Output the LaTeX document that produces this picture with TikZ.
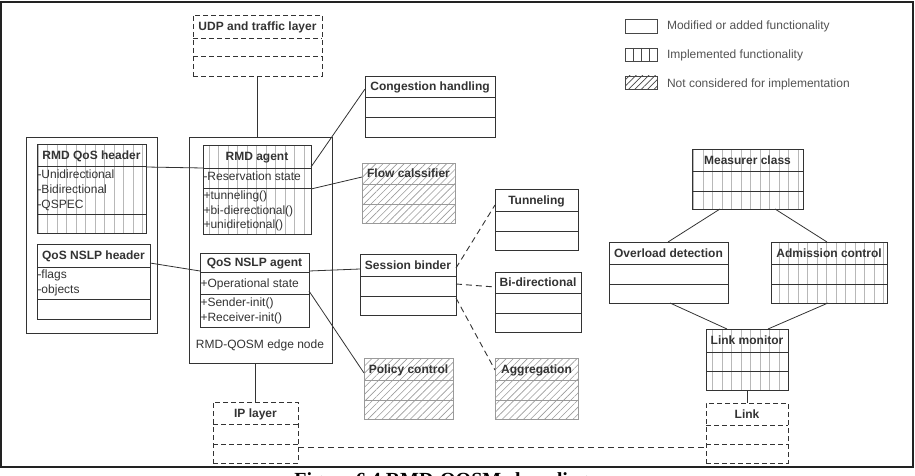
\documentclass[tikz,border=0pt]{standalone}
\usepackage{fontspec}
\setmainfont{Liberation Sans}
\newfontfamily\capfont{Liberation Serif}
\usetikzlibrary{patterns.meta,fit}
\definecolor{ink}{HTML}{333333}
\definecolor{frame}{HTML}{222222}
\definecolor{stripe}{HTML}{B8B8B8}
\definecolor{hatchc}{HTML}{9A9A9A}
\tikzset{
  every node/.style={font=\fontsize{12}{14}\selectfont, text=ink, inner sep=0pt, outer sep=0pt},
  plainbox/.style={draw=ink, line width=0.9pt, fill=white},
  stripebox/.style={draw=ink, line width=0.9pt, pattern={Lines[angle=90,distance=9.5pt,line width=0.5pt]}, pattern color=stripe},
  hatchbox/.style={draw=hatchc, line width=0.9pt, pattern={Lines[angle=45,distance=5pt,line width=0.6pt]}, pattern color=hatchc},
  dashbox/.style={draw=ink, line width=0.9pt, dash pattern=on 5pt off 3pt},
  plainsep/.style={draw=ink, line width=0.9pt},
  stripesep/.style={draw=ink, line width=0.9pt},
  hatchsep/.style={draw=hatchc, line width=0.9pt},
  dashsep/.style={draw=ink, line width=0.9pt, dash pattern=on 5pt off 3pt},
  title/.style={font=\fontsize{12}{14}\selectfont\bfseries, text height=8.6pt, text depth=0pt},
  attr/.style={anchor=west, text height=8.6pt, text depth=0pt},
  link/.style={draw=ink, line width=0.8pt},
  dlink/.style={draw=ink, line width=0.9pt, dash pattern=on 6pt off 4pt},
  container/.style={draw=ink, line width=0.9pt},
  legtext/.style={anchor=west, text=ink!85, text height=8.6pt, text depth=0pt},
}
\newcommand\umlc[9]{%
  \node[#2box, fit={(#3,#4)(#5,#8)}] (#1) {};
  \draw[#2sep] (#1.west |- 0,#6) -- (#1.east |- 0,#6) (#1.west |- 0,#7) -- (#1.east |- 0,#7);
  \node[title] (#1-t) at ({(#3+#5)/2},{(#4+#6)/2}) {#9};
}
\begin{document}
\begin{tikzpicture}[x=1pt,y=-1pt]
\useasboundingbox (0,0) rectangle (915,476);
\clip (0,0) rectangle (915,476);
% outer frame
\node[draw=frame, line width=1.3pt, fit={(1,2)(913,467)}] (frm) {};
% caption (cut by the page edge, as in the reference)
\node[font=\capfont\bfseries\fontsize{20}{24}\selectfont, text=black, anchor=base] (cap) at (459,486) {Figure 6.4 RMD-QOSM class diagram};

% containers
\node[container, fit={(26,137)(157,333)}] (hdrs) {};
\node[container, fit={(189,137)(332,363)}] (edge) {};
\node (edge-l) at (260,345) {RMD-QOSM edge node};

% classes
\umlc{udp}{dash}{193}{15}{322}{38}{56}{76}{UDP and traffic layer}
\umlc{qh}{stripe}{37}{144}{146}{166}{214}{233}{RMD QoS header}
\umlc{nh}{plain}{37}{244}{150}{267}{299}{319}{QoS NSLP header}
\umlc{ra}{stripe}{203}{145}{311}{168}{188}{234}{RMD agent}
\umlc{na}{plain}{200}{253}{309}{272}{294}{327}{QoS NSLP agent}
\umlc{ch}{plain}{365}{76}{495}{97}{117}{137}{Congestion handling}
\umlc{fc}{hatch}{362}{163}{455}{184}{204}{223}{Flow calssifier}
\umlc{tu}{plain}{495}{189}{578}{211}{231}{250}{Tunneling}
\umlc{sb}{plain}{360}{254}{456}{276}{296}{315}{Session binder}
\umlc{bd}{plain}{495}{272}{581}{293}{313}{332}{Bi-directional}
\umlc{pc}{hatch}{364}{358}{453}{380}{400}{419}{Policy control}
\umlc{ag}{hatch}{495}{358}{578}{380}{400}{419}{Aggregation}
\umlc{ip}{dash}{213}{402}{298}{424}{444}{463}{IP layer}
\umlc{mc}{stripe}{692}{149}{803}{171}{191}{209}{Measurer class}
\umlc{od}{plain}{609}{242}{728}{264}{284}{303}{Overload detection}
\umlc{ac}{stripe}{771}{242}{887}{264}{284}{303}{Admission control}
\umlc{lm}{stripe}{706}{329}{788}{352}{371}{390}{Link monitor}
\umlc{lk}{dash}{706}{403}{788}{425}{444}{463}{Link}

% attributes and methods
\node[attr] (qh-a1) at (37.5,174) {-Unidirectional};
\node[attr] (qh-a2) at (37.5,189) {-Bidirectional};
\node[attr] (qh-a3) at (37.5,204) {-QSPEC};
\node[attr] (nh-a1) at (37.5,274) {-flags};
\node[attr] (nh-a2) at (37.5,289) {-objects};
\node[attr] (ra-a1) at (203.5,176) {-Reservation state};
\node[attr] (ra-m1) at (203.5,195) {+tunneling()};
\node[attr] (ra-m2) at (203.5,210) {+bi-dierectional()};
\node[attr] (ra-m3) at (203.5,224) {+unidiretional()};
\node[attr] (na-a1) at (200.5,283) {+Operational state};
\node[attr] (na-m1) at (200.5,302) {+Sender-init()};
\node[attr] (na-m2) at (200.5,317) {+Receiver-init()};

% connectors
\draw[link] (udp.south) -- (udp.south |- edge.north);
\draw[link] (ip.north |- edge.south) -- (ip.north);
\draw[link] (qh.east |- 0,167) -- (ra.west |- 0,168);
\draw[link] (ra.east |- 0,167) -- (ch.west |- 0,89);
\draw[link] (ra.east |- 0,189) -- (fc.west |- 0,177);
\draw[link] (nh.east |- 0,263) -- (na.west |- 0,271);
\draw[link] (na.east |- 0,271) -- (sb.west |- 0,269);
\draw[link] (na.east |- 0,291) -- (pc.west |- 0,373);
\draw[dlink] (sb.east |- 0,268) -- (tu.west |- 0,205);
\draw[dlink] (sb.east |- 0,284) -- (bd.west |- 0,287);
\draw[dlink] (sb.east |- 0,298) -- (ag.west |- 0,370);
\draw[link] ([xshift=28pt]mc.south west) -- ([xshift=59pt]od.north west);
\draw[link] ([xshift=83pt]mc.south west) -- ([xshift=56pt]ac.north west);
\draw[link] ([xshift=61pt]od.south west) -- ([xshift=21pt]lm.north west);
\draw[link] ([xshift=57pt]ac.south west) -- ([xshift=62pt]lm.north west);
\draw[link] (lm.south) -- (lk.north);
\draw[dlink] (ip.east |- 0,447) -- (lk.west |- 0,447);

% legend
\node[draw=ink!90, line width=0.9pt, fit={(625,19)(657,33)}] (l1) {};
\node[draw=ink!90, line width=0.9pt, fit={(625,48)(657,61)}] (l2) {};
\draw[ink!90, line width=0.8pt] (l2.north -| 633,0) -- (l2.south -| 633,0)
  (l2.north -| 641,0) -- (l2.south -| 641,0) (l2.north -| 649,0) -- (l2.south -| 649,0);
\node[draw=ink!90, line width=0.9pt, pattern={Lines[angle=45,distance=4.5pt,line width=0.7pt]}, pattern color=ink!90, fit={(625,76)(657,89)}] (l3) {};
\node[legtext] (l1-t) at (667,25) {Modified or added functionality};
\node[legtext] (l2-t) at (667,54) {Implemented functionality};
\node[legtext] (l3-t) at (667,83) {Not considered for implementation};
\end{tikzpicture}
\end{document}
